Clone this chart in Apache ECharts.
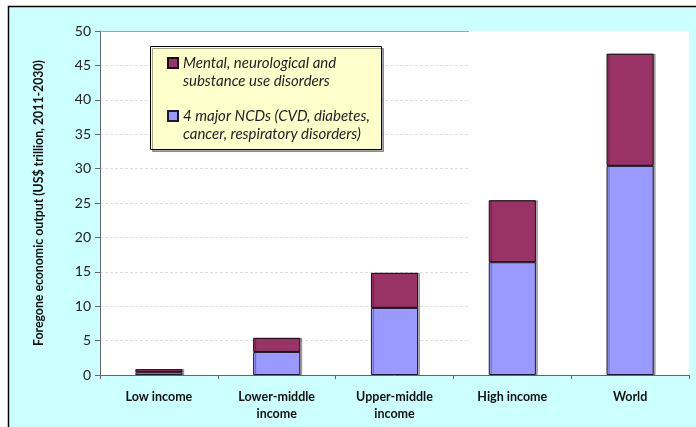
<!DOCTYPE html>
<html>
<head>
<meta charset="utf-8">
<script src="https://cdn.jsdelivr.net/npm/echarts@6/dist/echarts.min.js"></script>
<style>
  html, body { margin: 0; padding: 0; background: #ffffff; }
  #chart { width: 696px; height: 427px; }
</style>
</head>
<body>
<div id="chart"></div>
<script>
// Income groups along the x axis
const categories = ['Low income', 'Lower-middle\nincome', 'Upper-middle\nincome', 'High income', 'World'];

// Foregone output, US$ trillion (2011-2030)
const ncdValues = [0.4, 3.35, 9.75, 16.4, 30.4];
const mentalValues = [0.45, 2.05, 5.1, 9.0, 16.3];

const ncdName = '4 major NCDs (CVD, diabetes, cancer, respiratory disorders)';
const mentalName = 'Mental, neurological and substance use disorders';

// Wrapped legend text; the leading blank line keeps the swatch level with the first line
const legendLines = {};
legendLines[mentalName] = '\nMental, neurological and\nsubstance use disorders';
legendLines[ncdName] = '\n4 major NCDs (CVD, diabetes,\ncancer, respiratory disorders)';

const yTickInterval = 5;

const chart = echarts.init(document.getElementById('chart'), null, { renderer: 'canvas' });

const font = 'Lato, "Open Sans", sans-serif';

chart.setOption({
  backgroundColor: '#ffffff',
  animation: false,
  textStyle: { fontFamily: font },
  graphic: [
    {
      type: 'rect', z: -10, silent: true,
      shape: { x: 8.5, y: 6.5, width: 720, height: 450 },
      style: { fill: '#ccffff', stroke: '#000000', lineWidth: 1.5 }
    },
    {
      // plain panel over the right side of the plot
      type: 'rect', z: 1, silent: true,
      shape: { x: 470, y: 31, width: 219, height: 343 },
      style: { fill: '#ffffff' }
    },
    {
      type: 'line', z: 1, silent: true,
      shape: { x1: 100, y1: 31.5, x2: 469, y2: 31.5 },
      style: { stroke: '#a0a0a0', lineWidth: 1 }
    },
    {
      // legend box
      type: 'rect', z: 3, silent: true,
      shape: { x: 150.5, y: 46.5, width: 231, height: 103 },
      style: {
        fill: '#ffffcc', stroke: '#000000', lineWidth: 1,
        shadowColor: 'rgba(0,0,0,0.35)', shadowOffsetX: 2, shadowOffsetY: 2, shadowBlur: 0
      }
    }
  ],
  grid: {
    left: 100, right: 7, top: 31, bottom: 52,
    show: true, backgroundColor: '#ffffff', borderWidth: 0
  },
  legend: {
    z: 4,
    orient: 'vertical',
    left: 162, top: 31,
    padding: 5,
    itemGap: -1,
    icon: 'rect',
    itemWidth: 10, itemHeight: 10,
    data: [mentalName, ncdName],
    formatter: function (name) { return legendLines[name]; },
    textStyle: {
      fontFamily: font, fontStyle: 'italic', fontSize: 15, color: '#1e1e1e',
      lineHeight: 18
    }
  },
  xAxis: {
    type: 'category',
    data: categories,
    boundaryGap: true,
    axisLine: { lineStyle: { color: '#666666', width: 1 } },
    axisTick: { show: true, length: 4, alignWithLabel: false, lineStyle: { color: '#666666' } },
    axisLabel: {
      fontFamily: font, fontWeight: 'bold', fontSize: 12.5, color: '#111111',
      lineHeight: 17, margin: 13, interval: 0
    },
    splitLine: { show: false }
  },
  yAxis: {
    type: 'value',
    min: 0, max: 50, interval: yTickInterval,
    name: 'Foregone economic output (US$ trillion, 2011-2030)',
    nameLocation: 'middle',
    nameRotate: 90,
    nameGap: 55,
    nameTextStyle: { fontFamily: font, fontWeight: 'bold', fontSize: 12.3, color: '#111111' },
    axisLine: { show: true, lineStyle: { color: '#666666', width: 1 } },
    axisTick: { show: true, length: 5, inside: false, lineStyle: { color: '#666666' } },
    axisLabel: { fontFamily: font, fontSize: 14, color: '#222222', margin: 9 },
    splitLine: { show: true, lineStyle: { color: '#dddddd', type: [3, 2], width: 1 } }
  },
  series: [
    {
      name: ncdName,
      type: 'bar',
      stack: 'total',
      barWidth: '40%',
      data: ncdValues,
      itemStyle: {
        color: '#9999ff', borderColor: '#1a1a2a', borderWidth: 1,
        shadowColor: 'rgba(0,0,0,0.3)', shadowOffsetX: 2, shadowOffsetY: 0, shadowBlur: 0
      }
    },
    {
      name: mentalName,
      type: 'bar',
      stack: 'total',
      barWidth: '40%',
      data: mentalValues,
      itemStyle: {
        color: '#993366', borderColor: '#1a0a14', borderWidth: 1,
        shadowColor: 'rgba(0,0,0,0.3)', shadowOffsetX: 2, shadowOffsetY: 0, shadowBlur: 0
      }
    }
  ]
});
</script>
</body>
</html>
